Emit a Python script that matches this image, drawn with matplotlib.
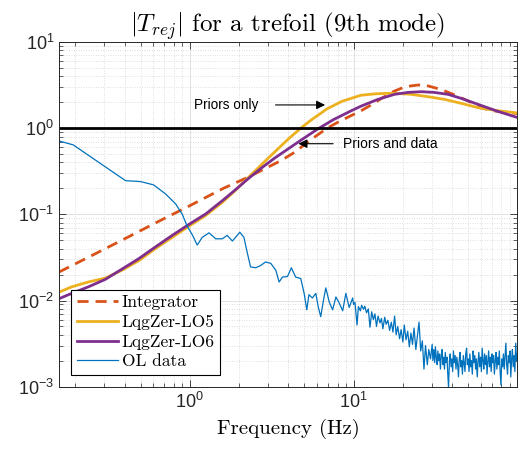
# |T_rej| cho trefoil (mode 9) - so sanh integrator va LQG
import math
import matplotlib
matplotlib.use('Agg')
import matplotlib.pyplot as plt
from matplotlib.ticker import LogLocator, FixedLocator, FuncFormatter, NullFormatter

# du lieu doc tu hinh
integ_f = [0.159, 0.25, 0.4, 0.63, 1.0, 1.6, 2.25, 2.8, 3.6, 4.4, 5.2, 6.0, 6.9, 8.0, 9.6, 11.1, 13.0, 15.0,
           17.8, 20.0, 22.5, 25.0, 28.0, 34.0, 40.0, 50.0, 60.0, 70.0, 85.0, 100.0]
integ_v = [0.0214, 0.033, 0.052, 0.081, 0.126, 0.20, 0.268, 0.33, 0.42, 0.53, 0.68, 0.83, 1.0, 1.17, 1.39, 1.59, 1.89, 2.25,
           2.7, 2.95, 3.1, 3.17, 3.12, 2.82, 2.5, 2.07, 1.72, 1.6, 1.52, 1.48]

lo5_f = [0.159, 0.19, 0.24, 0.305, 0.386, 0.488, 0.616, 0.78, 1.0, 1.25, 1.58, 1.9, 2.25, 2.71, 3.3, 4.0, 4.76,
         5.5, 6.9, 8.5, 11.1, 13.5, 16.2, 19.0, 22.4, 28.0, 35.9, 45.0, 57.5, 75.0, 100.0]
lo5_v = [0.0125, 0.0144, 0.0164, 0.0182, 0.0225, 0.029, 0.040, 0.054, 0.074, 0.097, 0.138, 0.19, 0.262, 0.37, 0.53, 0.75, 1.0,
         1.24, 1.68, 2.05, 2.41, 2.5, 2.54, 2.52, 2.47, 2.33, 2.16, 1.95, 1.73, 1.6, 1.5]

lo6_f = [0.159, 0.19, 0.24, 0.305, 0.386, 0.488, 0.616, 0.78, 1.0, 1.25, 1.58, 1.9, 2.25, 2.71, 3.3, 4.33, 5.0, 6.0,
         7.5, 9.6, 11.1, 14.0, 17.8, 21.5, 25.9, 31.0, 37.7, 46.0, 57.5, 75.0, 100.0]
lo6_v = [0.0105, 0.0121, 0.0144, 0.0176, 0.0232, 0.0306, 0.0418, 0.0569, 0.0776, 0.101, 0.144, 0.193, 0.255, 0.34, 0.45, 0.64, 0.77, 0.97,
         1.25, 1.58, 1.80, 2.15, 2.47, 2.6, 2.65, 2.6, 2.47, 2.2, 1.89, 1.58, 1.33]

# OL data - tan so thap
ol_f_low = [0.159, 0.194, 0.405, 0.5, 0.6, 0.71, 0.82, 0.90, 0.96, 1.04, 1.11, 1.19, 1.31, 1.44, 1.58, 1.69, 1.82,
            2.02, 2.14, 2.25, 2.35, 2.53, 2.71, 2.9, 3.12, 3.35, 3.51, 3.68, 3.95, 4.17, 4.43, 4.76, 4.99, 5.18,
            5.34, 5.6, 5.88, 6.08, 6.3, 6.55, 6.77, 7.1, 7.45, 7.8, 8.18, 8.58, 8.97, 9.4, 9.87]
ol_v_low = [0.71, 0.64, 0.246, 0.24, 0.22, 0.173, 0.132, 0.10, 0.074, 0.057, 0.044, 0.054, 0.061, 0.052, 0.052, 0.057, 0.049,
            0.062, 0.054, 0.035, 0.0245, 0.024, 0.0255, 0.028, 0.027, 0.0225, 0.0164, 0.0187, 0.019, 0.024, 0.0187, 0.018, 0.0121, 0.0078,
            0.0117, 0.0107, 0.0121, 0.0085, 0.0065, 0.0101, 0.014, 0.0096, 0.0078, 0.011, 0.0093, 0.0076, 0.0121, 0.0083, 0.0107]

# OL data - 10..30 Hz (don vi 1e-3)
ol_f_mid = [10.0, 10.2, 10.5, 10.7, 11.0, 11.2, 11.5, 11.7, 12.0, 12.3, 12.6, 12.9, 13.2, 13.5, 13.8, 14.1, 14.5, 14.8,
            15.1, 15.5, 15.8, 16.2, 16.6, 17.0, 17.4, 17.8, 18.2, 18.6, 19.1, 19.5, 20.0, 20.4, 20.9, 21.4, 21.9, 22.4,
            22.9, 23.4, 24.0, 24.5, 25.1, 25.7, 26.3, 26.9, 27.5, 28.2, 28.8, 29.5]
ol_v_mid = [9.0, 9.5, 5.2, 8.5, 7.6, 8.8, 7.9, 8.6, 7.2, 8.0, 4.9, 7.4, 6.0, 7.0, 5.0, 6.6, 5.5, 6.2,
            4.7, 6.4, 5.3, 5.9, 4.5, 5.6, 4.3, 6.6, 4.0, 5.0, 3.6, 4.6, 3.3, 5.2, 3.5, 4.4, 2.9, 4.2,
            3.1, 4.8, 2.7, 3.8, 5.6, 2.6, 3.4, 1.6, 3.0, 1.8, 2.7, 2.1]

# OL data - 30..100 Hz (don vi 1e-3)
ol_f_high = [30.2, 30.5, 30.9, 31.3, 31.6, 32.0, 32.4, 32.7, 33.1, 33.5,
             33.9, 34.3, 34.7, 35.1, 35.5, 35.9, 36.3, 36.7, 37.2, 37.6,
             38.0, 38.5, 38.9, 39.4, 39.8, 40.3, 40.7, 41.2, 41.7, 42.2,
             42.7, 43.2, 43.7, 44.2, 44.7, 45.2, 45.7, 46.2, 46.8, 47.3,
             47.9, 48.4, 49.0, 49.5, 50.1, 50.7, 51.3, 51.9, 52.5, 53.1,
             53.7, 54.3, 55.0, 55.6, 56.2, 56.9, 57.5, 58.2, 58.9, 59.6,
             60.3, 61.0, 61.7, 62.4, 63.1, 63.8, 64.6, 65.3, 66.1, 66.8,
             67.6, 68.4, 69.2, 70.0, 70.8, 71.6, 72.4, 73.3, 74.1, 75.0,
             75.9, 76.7, 77.6, 78.5, 79.4, 80.4, 81.3, 82.2, 83.2, 84.1,
             85.1, 86.1, 87.1, 88.1, 89.1, 90.2, 91.2, 92.3, 93.3, 94.4,
             95.5, 96.6, 97.7, 98.9, 100.0]
ol_v_high = [3.1, 2.0, 2.7, 1.9, 2.9, 2.2, 1.8, 2.6, 2.0, 2.4,
             1.6, 2.3, 2.7, 1.8, 2.2, 1.6, 2.5, 1.9, 2.2, 1.4,
             1.0, 2.0, 2.4, 1.7, 2.1, 1.5, 2.6, 1.9, 2.3, 1.6,
             2.2, 1.8, 1.3, 2.1, 2.5, 1.7, 2.0, 1.4, 2.3, 1.9,
             1.5, 2.4, 2.8, 1.8, 2.1, 1.5, 2.4, 1.7, 2.0, 1.4,
             2.6, 1.9, 2.3, 1.6, 2.1, 1.3, 1.9, 2.5, 1.7, 2.2,
             1.5, 2.8, 2.0, 1.6, 2.4, 1.8, 2.3, 1.4, 2.0, 2.6,
             1.7, 2.2, 1.5, 2.4, 1.9, 2.3, 1.4, 2.0, 2.5, 1.6,
             2.2, 1.8, 2.6, 1.5, 1.05, 2.1, 1.7, 2.4, 1.6, 2.2,
             3.2, 1.8, 1.4, 2.3, 1.9, 2.6, 1.3, 2.1, 2.7, 1.7,
             2.3, 1.5, 3.2, 2.0, 2.4]

ol_f = ol_f_low + ol_f_mid + ol_f_high
ol_v = ol_v_low + [v * 1e-3 for v in ol_v_mid + ol_v_high]

legend_labels = ['Integrator', 'LqgZer-LO5', 'LqgZer-LO6', 'OL data']

# font
sans = ['Liberation Sans', 'DejaVu Sans']
serif = 'cmr10'
plt.rcParams['axes.formatter.use_mathtext'] = True

fig = plt.figure(figsize=(5.27, 4.51), dpi=100)
ax = fig.add_axes([0.112, 0.1426, 0.869, 0.7643])

ax.plot(integ_f, integ_v, '--', color='#D95319', lw=2.0, dashes=(4, 2.5), label=legend_labels[0])
ax.plot(lo5_f, lo5_v, '-', color='#EDB120', lw=2.0, label=legend_labels[1])
ax.plot(lo6_f, lo6_v, '-', color='#7E2F8E', lw=2.0, label=legend_labels[2])
ax.plot(ol_f, ol_v, '-', color='#0072BD', lw=0.9, label=legend_labels[3])
ax.axhline(1.0, color='k', lw=2.0)

ax.set_xscale('log')
ax.set_yscale('log')
ax.set_xlim(0.159, 99.5)
ax.set_ylim(1e-3, 1e1)

# ticks kieu MATLAB
ax.xaxis.set_major_locator(FixedLocator([1, 10]))
ax.xaxis.set_minor_locator(LogLocator(base=10, subs=range(2, 10), numticks=20))
ax.yaxis.set_major_locator(FixedLocator([1e-3, 1e-2, 1e-1, 1e0, 1e1]))
ax.yaxis.set_minor_locator(LogLocator(base=10, subs=range(2, 10), numticks=20))
fmt = FuncFormatter(lambda v, p: r'$\mathregular{10^{%d}}$' % round(math.log10(v)))
ax.xaxis.set_major_formatter(fmt)
ax.yaxis.set_major_formatter(fmt)
ax.xaxis.set_minor_formatter(NullFormatter())
ax.yaxis.set_minor_formatter(NullFormatter())
ax.tick_params(axis='both', which='both', direction='in', top=True, right=True, colors='#262626', labelcolor='#262626')
ax.tick_params(axis='both', which='major', labelsize=13, length=5, width=0.6)
ax.tick_params(axis='both', which='minor', length=3, width=0.5)
for lab in ax.get_xticklabels() + ax.get_yticklabels():
    lab.set_fontfamily(sans)

ax.grid(True, which='major', color='#dcdcdc', lw=0.6, ls='-')
ax.grid(True, which='minor', color='#c0c0c0', lw=0.5, ls=(0, (1, 2.5)))
ax.set_axisbelow(True)
for s in ax.spines.values():
    s.set_color('#262626')
    s.set_linewidth(0.7)

# chu thich mui ten
ax.annotate('', xy=(6.97, 1.86), xytext=(3.21, 1.86),
            arrowprops=dict(arrowstyle='-|>', color='k', lw=0.8, mutation_scale=13))
ax.text(1.66, 1.86, 'Priors only', fontsize=9.8, family=sans, ha='center', va='center')
ax.annotate('', xy=(4.43, 0.66), xytext=(7.8, 0.66),
            arrowprops=dict(arrowstyle='-|>', color='k', lw=0.8, mutation_scale=13))
ax.text(8.6, 0.66, 'Priors and data', fontsize=10, family=sans, ha='left', va='center')

ax.set_title(r'$|T_{rej}|$ for a trefoil (9th mode)', fontsize=18, family=serif, math_fontfamily='cm', pad=5)
ax.set_xlabel('Frequency (Hz)', fontsize=15, family=serif, labelpad=5)

leg = ax.legend(loc='lower left', bbox_to_anchor=(0.027, 0.035), prop={'family': serif, 'size': 12.5},
                fancybox=False, edgecolor='k', framealpha=1, handlelength=2.4, labelspacing=0.25,
                handletextpad=0.2, borderpad=0.3, borderaxespad=0)
leg.get_frame().set_linewidth(0.8)

plt.savefig('out.png', dpi=100)
